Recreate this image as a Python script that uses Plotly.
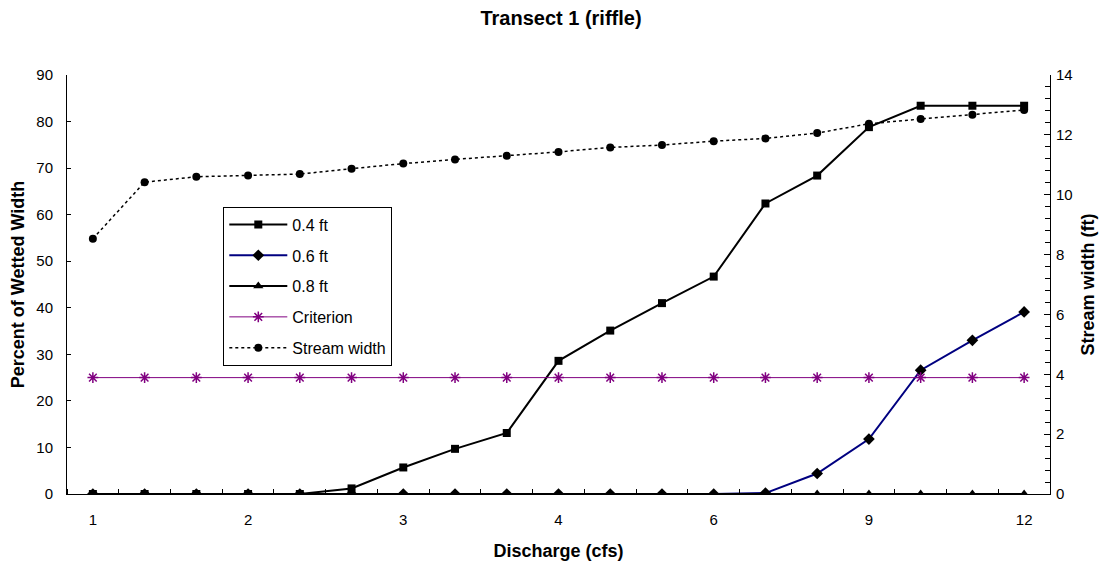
import plotly.graph_objects as go

# discharge categories (cfs); only every third one is labelled on the axis
discharge = [1, 1.33, 1.67, 2, 2.33, 2.67, 3, 3.33, 3.67, 4,
             4.67, 5.33, 6, 7, 8, 9, 10, 11, 12]
tick_labels = ["1", "2", "3", "4", "6", "9", "12"]

pct_04 = [0, 0, 0, 0, 0, 1.2, 5.7, 9.7, 13.1, 28.6,
          35.1, 41.0, 46.7, 62.4, 68.4, 78.8, 83.4, 83.4, 83.4]
pct_06 = [0, 0, 0, 0, 0, 0, 0, 0, 0, 0,
          0, 0, 0, 0.2, 4.4, 11.8, 26.6, 33.0, 39.1]
pct_08 = [0] * 19
criterion = [25] * 19
stream_width = [8.53, 10.42, 10.6, 10.64, 10.69, 10.87, 11.04, 11.18, 11.3, 11.43,
                11.58, 11.66, 11.79, 11.88, 12.06, 12.37, 12.53, 12.67, 12.83]

idx = list(range(len(discharge)))
FONT = "Liberation Sans, Arial, sans-serif"

fig = go.Figure()

fig.add_trace(go.Scatter(
    x=idx, y=pct_04, name="0.4 ft", mode="lines+markers",
    line=dict(color="black", width=2),
    marker=dict(symbol="square", size=8, color="black"),
    legendgroup="a", customdata=discharge,
))
fig.add_trace(go.Scatter(
    x=idx, y=pct_06, name="0.6 ft", mode="lines+markers",
    line=dict(color="#000080", width=2),
    marker=dict(symbol="diamond", size=9, color="black"),
    legendgroup="b", customdata=discharge,
))
fig.add_trace(go.Scatter(
    x=idx, y=pct_08, name="0.8 ft", mode="lines+markers",
    line=dict(color="black", width=2),
    marker=dict(symbol="triangle-up", size=9, color="black"),
    legendgroup="c", customdata=discharge,
))
fig.add_trace(go.Scatter(
    x=idx, y=criterion, name="Criterion", mode="lines+markers",
    line=dict(color="#800080", width=1),
    marker=dict(symbol="asterisk-open", size=9, color="#800080",
                line=dict(color="#800080", width=1.5)),
    legendgroup="d", customdata=discharge,
))
fig.add_trace(go.Scatter(
    x=idx, y=stream_width, name="Stream width", mode="lines+markers",
    line=dict(color="black", width=1.5, dash="dot"),
    marker=dict(symbol="circle", size=8, color="black"),
    legendgroup="e", yaxis="y2", customdata=discharge,
))

# the page body adds an 8px margin, so the figure is a bit smaller than the window
fig.update_layout(
    width=1106, height=556,
    margin=dict(l=59, r=64, t=67, b=70),
    paper_bgcolor="white", plot_bgcolor="white",
    font=dict(family=FONT, size=15, color="black"),
    title=dict(text="<b>Transect 1 (riffle)</b>", x=0.5, xanchor="center",
               y=0.982, yanchor="middle", font=dict(size=20)),
    showlegend=True,
    legend=dict(
        x=0.159, y=0.686, xanchor="left", yanchor="top",
        bordercolor="black", borderwidth=1, bgcolor="white",
        tracegroupgap=7, itemwidth=58,
        font=dict(size=16),
    ),
    xaxis=dict(
        range=[-0.5, 18.5], automargin=False,
        tickmode="array", tickvals=idx[::3], ticktext=tick_labels,
        ticks="", ticklabelstandoff=12, showgrid=False, zeroline=False,
        showline=True, linecolor="black", linewidth=1,
        minor=dict(tickmode="linear", tick0=0.5, dtick=1, ticks="inside",
                   ticklen=5, tickcolor="black", showgrid=False),
        title=dict(text="<b>Discharge (cfs)</b>", standoff=17),
    ),
    yaxis=dict(
        range=[0, 90], dtick=10, automargin=False,
        ticks="inside", ticklen=4, tickcolor="black", ticklabelstandoff=10,
        showgrid=False, zeroline=False,
        showline=True, linecolor="black", linewidth=1,
        title=dict(text="<b>Percent of Wetted Width</b>", standoff=7),
    ),
    yaxis2=dict(
        range=[0, 14], dtick=2, overlaying="y", side="right", automargin=False,
        ticks="inside", ticklen=6, tickcolor="black", ticklabelstandoff=2,
        showgrid=False, zeroline=False,
        showline=True, linecolor="black", linewidth=1,
        minor=dict(dtick=0.4, ticks="inside", ticklen=5, tickcolor="black",
                   showgrid=False),
        title=dict(text="<b>Stream width (ft)</b>", standoff=9),
    ),
)

fig.write_html("out.html")
